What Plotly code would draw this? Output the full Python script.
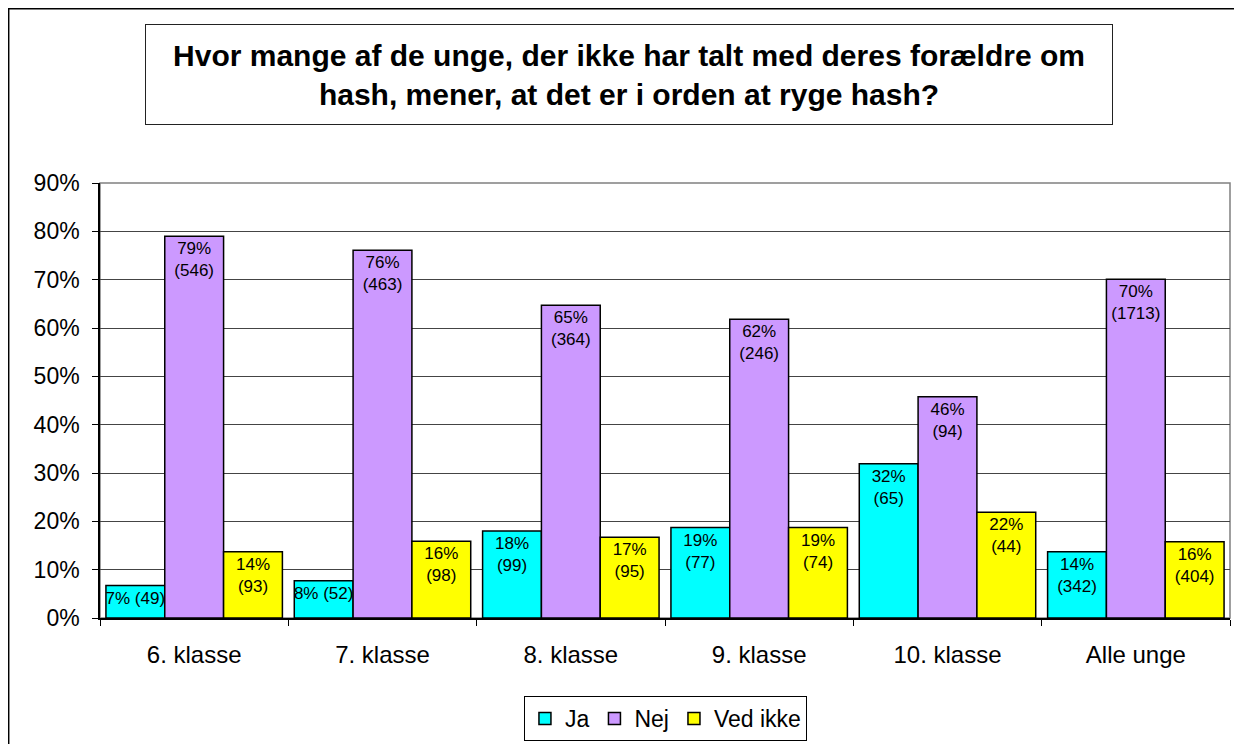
import plotly.graph_objects as go

kategorier = ['6. klasse', '7. klasse', '8. klasse', '9. klasse', '10. klasse', 'Alle unge']

ja_pct = [6.7, 7.7, 18.0, 18.7, 31.9, 13.7]
nej_pct = [79.0, 76.1, 64.7, 61.8, 45.8, 70.1]
vedikke_pct = [13.7, 15.9, 16.7, 18.7, 21.9, 15.8]

ja_antal = [49, 52, 99, 77, 65, 342]
nej_antal = [546, 463, 364, 246, 94, 1713]
vedikke_antal = [93, 98, 95, 74, 44, 404]

ja_tekst = ['7% (49)', '8% (52)', '18%<br>(99)', '19%<br>(77)', '32%<br>(65)', '14%<br>(342)']
nej_tekst = ['79%<br>(546)', '76%<br>(463)', '65%<br>(364)', '62%<br>(246)', '46%<br>(94)', '70%<br>(1713)']
vedikke_tekst = ['14%<br>(93)', '16%<br>(98)', '17%<br>(95)', '19%<br>(74)', '22%<br>(44)', '16%<br>(404)']

font = 'Arial, Liberation Sans, sans-serif'

serier = [
    ('Ja', ja_pct, ja_tekst, '#00FFFF'),
    ('Nej', nej_pct, nej_tekst, '#CC99FF'),
    ('Ved ikke', vedikke_pct, vedikke_tekst, '#FFFF00'),
]

fig = go.Figure()
for navn, vaerdier, tekst, farve in serier:
    fig.add_trace(go.Bar(
        name=navn, x=kategorier, y=vaerdier, text=tekst,
        textposition='inside', insidetextanchor='end', constraintext='none',
        textangle=0, textfont=dict(family=font, size=17, color='black'),
        marker=dict(color=farve, line=dict(color='black', width=1.5)),
        hoverinfo='skip',
    ))

# siden har 8px margin, så figuren er gjort 8px mindre
fig.update_layout(
    width=1234, height=736,
    margin=dict(l=92, r=12, t=175, b=126),
    paper_bgcolor='white', plot_bgcolor='white',
    barmode='group', bargap=0.063, bargroupgap=0,
    font=dict(family=font, size=23, color='black'),
    showlegend=True,
    legend=dict(orientation='h', x=0.5004, xanchor='center',
                yref='container', y=1 - 688 / 736, yanchor='top',
                bordercolor='black', borderwidth=1, font=dict(size=23),
                itemwidth=30, tracegroupgap=0),
    annotations=[dict(
        text='<b>Hvor mange af de unge, der ikke har talt med deres forældre om<br>hash, mener, at det er i orden at ryge hash?</b>',
        xref='paper', yref='paper', x=0.468, y=1.2494, xanchor='center', yanchor='middle',
        showarrow=False, font=dict(family=font, size=30, color='black'),
        bordercolor='#222', borderwidth=1, borderpad=0, width=966, height=99,
        bgcolor='white', align='center',
    )],
    shapes=[
        # plotområdets ramme (grå)
        dict(type='rect', xref='paper', yref='paper', x0=0, x1=1, y0=0, y1=1,
             line=dict(color='#808080', width=1.5), layer='below'),
        # ydre ramme
        dict(type='rect', xref='paper', yref='paper', x0=-0.0808, x1=1.2, y0=-0.5, y1=1.4006,
             line=dict(color='black', width=1.5), layer='below'),
    ],
)

fig.update_yaxes(
    range=[0, 90], dtick=10, ticksuffix='%', showgrid=True, gridcolor='#444', gridwidth=1,
    showline=True, linecolor='black', linewidth=1.5, ticks='outside', ticklen=6,
    tickcolor='black', tickfont=dict(size=23), zeroline=False, ticklabelstandoff=8,
)
fig.update_xaxes(
    showline=True, linecolor='black', linewidth=1.5, ticks='outside', ticklen=6,
    tickson='boundaries', tickcolor='black', tickfont=dict(size=24), ticklabelstandoff=14,
)

fig.write_html('out.html')
